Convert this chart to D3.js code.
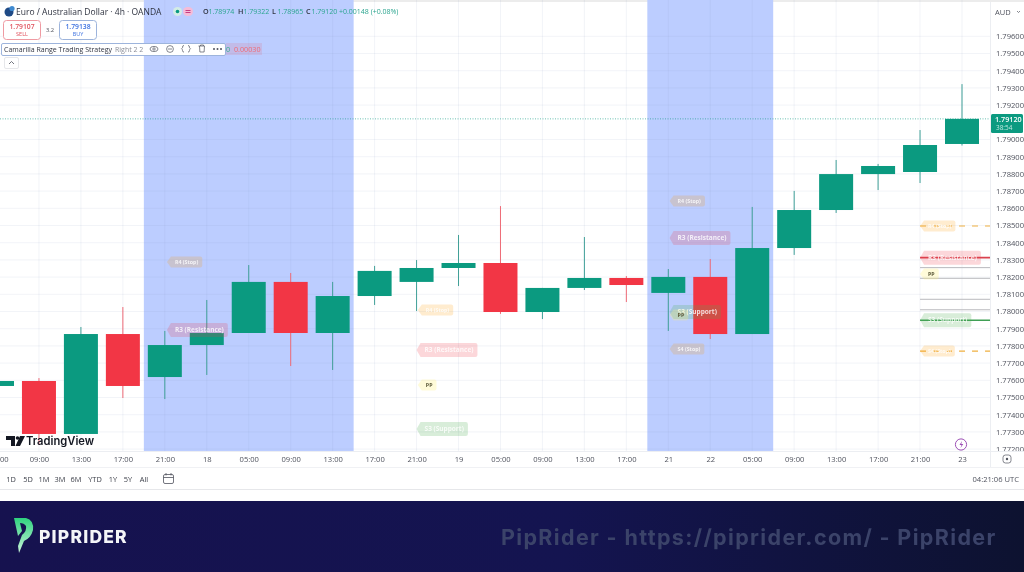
<!DOCTYPE html>
<html><head><meta charset="utf-8">
<script src="https://cdn.jsdelivr.net/npm/d3@7/dist/d3.min.js"></script>
<style>
html,body{margin:0;padding:0;background:#fff;overflow:hidden}
svg{display:block;font-family:"Open Sans",sans-serif;filter:blur(0.35px)}
</style></head><body><svg id="c" width="1024" height="572"></svg>
<script>
// ---------- data ----------
const timeLabels = ["05:00","09:00","13:00","17:00","21:00","18","05:00","09:00","13:00","17:00","21:00","19","05:00","09:00","13:00","17:00","21","22","05:00","09:00","13:00","17:00","21:00","23"];
const opens  = [1.77567,1.77596,1.77288,1.77869,1.77619,1.77805,1.77875,1.78172,1.77875,1.78090,1.78172,1.78253,1.78282,1.77997,1.78137,1.78195,1.78108,1.78201,1.77869,1.78369,1.78590,1.78799,1.78811,1.78974];
const highs  = [1.77596,1.77613,1.77910,1.78026,1.77887,1.78067,1.78270,1.78224,1.78172,1.78265,1.78299,1.78445,1.78613,1.78137,1.78433,1.78206,1.78247,1.78305,1.78608,1.78701,1.78881,1.78858,1.79055,1.79322];
const lows   = [1.77530,1.77224,1.77288,1.77497,1.77491,1.77631,1.77875,1.77683,1.77660,1.78038,1.78003,1.78148,1.77986,1.77956,1.78125,1.78055,1.77887,1.77840,1.77869,1.78329,1.78573,1.78706,1.78747,1.78965];
const closes = [1.77596,1.77288,1.77869,1.77567,1.77805,1.77875,1.78172,1.77875,1.78090,1.78236,1.78253,1.78282,1.77997,1.78137,1.78195,1.78154,1.78201,1.77869,1.78369,1.78590,1.78799,1.78846,1.78968,1.79120];
const priceTicks = [1.796,1.795,1.794,1.793,1.792,1.790,1.789,1.788,1.787,1.786,1.785,1.784,1.783,1.782,1.781,1.780,1.779,1.778,1.777,1.776,1.775,1.774,1.773,1.772];
const lastPrice = 1.79120;
const bandStarts = [3.5,15.5];
const bandEnds = [8.5,18.5];
const labelTexts = ["R4 (Stop)","R3 (Resistance)","R4 (Stop)","R3 (Resistance)","PP","S3 (Support)","R4 (Stop)","R3 (Resistance)","S3 (Support)","PP","S4 (Stop)"];
const labelKinds = ["stop","res","stop","res","pp","sup","stop","res","sup","pp","stop"];
const labelSlots = [4.05,4.05,10.03,10,10.03,10,16.03,16.03,16.03,16.03,16.03];
const labelPrices = [1.78288,1.77892,1.78009,1.77776,1.77573,1.77317,1.78642,1.78427,1.77997,1.77980,1.77782];
const levelNames = ["R4 (Stop)","R3 (Resistance)","PP","S3 (Support)","S4 (Stop)"];
const levelKinds = ["stop","res","pp","sup","stop"];
const levelPrices = [1.78497,1.78313,1.78218,1.77949,1.77770];
const greyLevels = [1.78255,1.78193,1.78071,1.78010];
const rangeButtons = ["1D","5D","1M","3M","6M","YTD","1Y","5Y","All"];
const rangeCentres = [11,28,44,60,76,95,113,128,144];

// ---------- scales ----------
const W=1024, axisX=990, plotB=451;
const x = d3.scaleLinear().domain([0,23]).range([-3,962]);
const y = d3.scaleLinear().domain([1.796,1.772]).range([36.3,449.1]);
const svg = d3.select("#c");
const kindFill = {stop:"#ff9800",res:"#f23645",pp:"#fff176",sup:"#4caf50"};
const kindOp = {stop:.19,res:.2,pp:.28,sup:.22};
const kindLine = {stop:"#efb040",res:"#d9434f",pp:"#bdbdbd",sup:"#3f9f55"};
const T = (s,xx,yy,o={})=>svg.append("text").attr("x",xx).attr("y",yy).text(s)
  .attr("font-size",o.size||8).attr("fill",o.fill||"#50535e").attr("text-anchor",o.anchor||"start")
  .attr("font-weight",o.weight||400).attr("font-family",o.family||null).attr("letter-spacing",o.ls||null);

svg.append("rect").attr("width",W).attr("height",572).attr("fill","#fff");
svg.append("rect").attr("width",W).attr("height",2).attr("fill","#ececec");

// bands
svg.selectAll(".band").data(bandStarts).join("rect").attr("class","band")
  .attr("x",d=>x(d)).attr("width",(d,i)=>x(bandEnds[i])-x(d)).attr("y",0).attr("height",plotB).attr("fill","#bccdff");

// grid
svg.append("g").selectAll("line").data(priceTicks).join("line")
  .attr("x1",0).attr("x2",axisX).attr("y1",d=>y(d)).attr("y2",d=>y(d)).attr("stroke","#8a9bc0").attr("stroke-opacity",.11);
svg.append("g").selectAll("line").data(timeLabels).join("line")
  .attr("x1",(d,i)=>x(i)).attr("x2",(d,i)=>x(i)).attr("y1",0).attr("y2",plotB).attr("stroke","#8a9bc0").attr("stroke-opacity",.11);

// price line
svg.append("line").attr("x1",0).attr("x2",axisX).attr("y1",y(lastPrice)).attr("y2",y(lastPrice))
  .attr("stroke","#089981").attr("stroke-opacity",.6).attr("stroke-dasharray","1 1.5");

// level lines
svg.append("g").selectAll("line").data(greyLevels).join("line")
  .attr("x1",x(22)).attr("x2",axisX).attr("y1",d=>y(d)).attr("y2",d=>y(d)).attr("stroke","#b9b9bd").attr("stroke-width",1);
svg.append("g").selectAll("line").data(levelPrices.filter((d,i)=>levelKinds[i]!=="pp")).join("line")
  .attr("x1",x(22)).attr("x2",axisX).attr("y1",d=>y(d)).attr("y2",d=>y(d))
  .attr("stroke",d=>kindLine[levelKinds[levelPrices.indexOf(d)]])
  .attr("stroke-width",d=>levelKinds[levelPrices.indexOf(d)]==="stop"?1.2:1.6)
  .attr("stroke-dasharray",d=>levelKinds[levelPrices.indexOf(d)]==="stop"?"6 7":null);

// candles
const idx = d3.range(opens.length);
const col = i=>closes[i]>=opens[i]?"#0b9a80":"#f23645";
const bw = 34;
const candleClip = svg.append("g");
candleClip.selectAll(".wick").data(idx).join("line").attr("class","wick")
  .attr("x1",x).attr("x2",x).attr("y1",i=>y(highs[i])).attr("y2",i=>y(lows[i]))
  .attr("stroke",i=>closes[i]>=opens[i]?"#3f9f97":"#ee6a76").attr("stroke-width",1);
candleClip.selectAll(".body").data(idx).join("rect").attr("class","body")
  .attr("x",i=>x(i)-bw/2).attr("width",bw)
  .attr("y",i=>y(Math.max(opens[i],closes[i])))
  .attr("height",i=>Math.abs(y(opens[i])-y(closes[i])))
  .attr("fill",col);

// pill labels
function pill(g,text,kind,px,py){
  const h = kind==="stop"||kind==="pp"?11:14;
  const t = g.append("text").attr("font-size",kind==="stop"||kind==="pp"?5.3:6.5).attr("font-weight",700)
    .attr("fill",kind==="pp"?"#5d5a3a":"#ffffff").attr("fill-opacity",kind==="pp"?1:.8).text(text);
  const tw = t.node().getComputedTextLength();
  const a = 4, w = tw+a+8;
  g.insert("path","text").attr("d",`M${px},${py} L${px+a},${py-h/2} H${px+w-2} Q${px+w},${py-h/2} ${px+w},${py-h/2+2} V${py+h/2-2} Q${px+w},${py+h/2} ${px+w-2},${py+h/2} H${px+a} Z`)
    .attr("fill",kindFill[kind]).attr("fill-opacity",kindOp[kind]);
  t.attr("x",px+a+4).attr("y",py+2.2);
}
labelTexts.forEach((s,i)=>pill(svg.append("g"),s,labelKinds[i],x(labelSlots[i]),y(labelPrices[i])));
levelNames.forEach((s,i)=>pill(svg.append("g"),s,levelKinds[i],x(22),y(levelPrices[i])));

// right axis
svg.append("rect").attr("x",axisX).attr("y",2).attr("width",W-axisX).attr("height",465).attr("fill","#fff");
svg.append("line").attr("x1",axisX+.5).attr("x2",axisX+.5).attr("y1",2).attr("y2",467).attr("stroke","#eceef2");
const ay = svg.append("g").attr("transform",`translate(${axisX+1},0)`)
  .call(d3.axisRight(y).tickValues(priceTicks).tickFormat(d3.format(".5f")).tickSize(0).tickPadding(5));
ay.select(".domain").remove();
ay.selectAll("text").attr("font-size",7.6).attr("fill","#50535e").attr("font-family",'"Open Sans",sans-serif');

// time axis
svg.append("rect").attr("x",0).attr("y",plotB).attr("width",axisX).attr("height",16).attr("fill","#fff");
svg.append("line").attr("x1",0).attr("x2",W).attr("y1",plotB+.5).attr("y2",plotB+.5).attr("stroke","#eceef2");
svg.append("line").attr("x1",0).attr("x2",W).attr("y1",467.5).attr("y2",467.5).attr("stroke","#f0f1f4");
svg.append("line").attr("x1",0).attr("x2",W).attr("y1",489.5).attr("y2",489.5).attr("stroke","#e6e7ea");
const ax = svg.append("g").attr("transform",`translate(0,${plotB+3})`)
  .call(d3.axisBottom(x).tickValues(idx.slice(1)).tickFormat(i=>timeLabels[i]).tickSize(0).tickPadding(3));
ax.select(".domain").remove();
ax.selectAll("text").attr("font-size",7.6).attr("fill","#50535e").attr("font-family",'"Open Sans",sans-serif');
T(timeLabels[0].slice(-2),0,462,{size:7.6}); // clipped first label, as in the source screenshot

// last price tag
svg.append("rect").attr("x",991).attr("y",114).attr("width",32).attr("height",19).attr("rx",1.5).attr("fill","#0b9a80");
T(d3.format(".5f")(lastPrice),995,122,{size:7.2,fill:"#fff",weight:600});
T("38:54",996,130,{size:6.4,fill:"#bfe9df"});

// AUD
T("AUD",995,15,{size:7.5});
svg.append("path").attr("d","M1017,11l1.5,1.5l1.5,-1.5").attr("fill","none").attr("stroke","#50535e").attr("stroke-width",.7);

// header
svg.append("circle").attr("cx",9).attr("cy",12).attr("r",4.5).attr("fill","#1f4a86");
svg.append("circle").attr("cx",12).attr("cy",8.5).attr("r",2.6).attr("fill","#3f8ad0");
T("Euro / Australian Dollar · 4h · OANDA",16,15,{size:8.5,fill:"#2f3340",weight:500});
svg.append("rect").attr("x",173).attr("y",7).attr("width",9).attr("height",9).attr("rx",4.5).attr("fill","#d3ece6");
svg.append("circle").attr("cx",177.5).attr("cy",11.5).attr("r",1.8).attr("fill","#089981");
svg.append("rect").attr("x",183).attr("y",7).attr("width",10).attr("height",9).attr("rx",4.5).attr("fill","#f5bcd8");
svg.append("rect").attr("x",185.5).attr("y",10).attr("width",5).attr("height",.9).attr("fill","#c2307a");
svg.append("rect").attr("x",185.5).attr("y",12).attr("width",5).attr("height",.9).attr("fill","#c2307a");
const ohlc=[["O","1.78974",203],["H","1.79322",238],["L","1.78965",272],["C","1.79120",306]];
ohlc.forEach(d=>{T(d[0],d[2],14,{size:7.2,fill:"#2f3340",weight:600});T(d[1],d[2]+5.5,14,{size:7,fill:"#2ba58f"});});
T("+0.00148 (+0.08%)",339,14,{size:7,fill:"#2ba58f"});

// sell / buy
svg.append("rect").attr("x",3.5).attr("y",20.5).attr("width",37).attr("height",19).attr("rx",3).attr("fill","#fff").attr("stroke","#ef9aa2");
T("1.79107",22,29,{size:6.8,fill:"#e0525e",anchor:"middle",weight:600});
T("SELL",22,36,{size:5.5,fill:"#e0525e",anchor:"middle"});
T("3.2",50,32,{size:5.8,anchor:"middle"});
svg.append("rect").attr("x",59.5).attr("y",20.5).attr("width",37).attr("height",19).attr("rx",3).attr("fill","#fff").attr("stroke","#9db4dc");
T("1.79138",78,29,{size:6.8,fill:"#3d72e0",anchor:"middle",weight:600});
T("BUY",78,36,{size:5.5,fill:"#3d72e0",anchor:"middle"});

// strategy bar
svg.append("rect").attr("x",226).attr("y",43).attr("width",36).attr("height",12).attr("fill","#f23645").attr("fill-opacity",.12);
T("0",226,52,{size:7.2,fill:"#34b58a"});
T("0.00030",234,52,{size:7.2,fill:"#ef6b76"});
svg.append("rect").attr("x",1.5).attr("y",43.5).attr("width",224).attr("height",12).attr("rx",1.5).attr("fill","#fff").attr("stroke","#9db4dc");
T("Camarilla Range Trading Strategy",4,52,{size:7,fill:"#2f3340"});
T("Right 2 2",115,52,{size:7,fill:"#8a8d97"});
const ic = svg.append("g").attr("fill","none").attr("stroke","#50535e").attr("stroke-width",.7);
ic.append("ellipse").attr("cx",154).attr("cy",49).attr("rx",4).attr("ry",2.6);
ic.append("circle").attr("cx",154).attr("cy",49).attr("r",1.2);
ic.append("circle").attr("cx",170).attr("cy",49).attr("r",3.4);
ic.append("path").attr("d","M168,49h4");
ic.append("path").attr("d","M184,45.5q-1.5,0 -1.5,1.5v.8l-1,1l1,1v.8q0,1.5 1.5,1.5M188,45.5q1.5,0 1.5,1.5v.8l1,1l-1,1v.8q0,1.5 -1.5,1.5");
ic.append("path").attr("d","M198.5,46h6M199.5,46l.4,6h4.2l.4,-6M200.5,46v-1h3v1");
[214,217.5,221].forEach(c=>svg.append("circle").attr("cx",c).attr("cy",49).attr("r",1).attr("fill","#50535e"));
svg.append("rect").attr("x",4.5).attr("y",57.5).attr("width",14).attr("height",11).attr("rx",1.5).attr("fill","#fff").attr("stroke","#e6e7ea");
svg.append("path").attr("d","M9,64l2.5,-2.5l2.5,2.5").attr("fill","none").attr("stroke","#50535e").attr("stroke-width",.8);

// TradingView logo
svg.append("path").attr("d","M6,436H15V446H11V440H6ZM20,436H25L20,446H15.5Z").attr("fill","#131722");
svg.append("circle").attr("cx",17.5).attr("cy",438).attr("r",1.8).attr("fill","#131722");
T("TradingView",26,445,{size:11.2,fill:"#131722",weight:600,family:"Inter, sans-serif"});

// bolt and settings icons
svg.append("circle").attr("cx",961).attr("cy",444.5).attr("r",5.6).attr("fill","#fff").attr("stroke","#9c4fb5").attr("stroke-width",1);
svg.append("path").attr("d","M962,441l-2.5,4h2l-1,3l2.8,-4h-2Z").attr("fill","#9c4fb5");
svg.append("rect").attr("x",1003).attr("y",455).attr("width",8).attr("height",8).attr("rx",2.5).attr("fill","none").attr("stroke","#50535e").attr("stroke-width",.7);
svg.append("circle").attr("cx",1007).attr("cy",459).attr("r",1.2).attr("fill","#50535e");

// toolbar
rangeButtons.forEach((s,i)=>T(s,rangeCentres[i],482,{size:7.4,anchor:"middle",fill:"#3d404a"}));
svg.append("rect").attr("x",163.5).attr("y",474.5).attr("width",10).attr("height",9).attr("rx",1.5).attr("fill","none").attr("stroke","#50535e").attr("stroke-width",.8);
svg.append("path").attr("d","M163.5,477.5h10M166,473v2.5M171,473v2.5").attr("stroke","#50535e").attr("stroke-width",.8);
T("04:21:06 UTC",1019,482,{size:7.6,anchor:"end"});

// footer
const defs = svg.append("defs");
const gr = defs.append("linearGradient").attr("id","ft");
gr.append("stop").attr("offset","0").attr("stop-color","#16124f");
gr.append("stop").attr("offset",".55").attr("stop-color","#141450");
gr.append("stop").attr("offset","1").attr("stop-color","#0d1230");
const gp = defs.append("linearGradient").attr("id","lg").attr("x1",0).attr("y1",0).attr("x2",0).attr("y2",1);
gp.append("stop").attr("offset","0").attr("stop-color","#2fd27f");
gp.append("stop").attr("offset","1").attr("stop-color","#c9f3d8");
svg.append("rect").attr("y",501).attr("width",W).attr("height",71).attr("fill","url(#ft)");
svg.append("path").attr("d","M14,518H26Q34,520 33,530Q31,538 24,541L19,553L18,546L22,535Q27,531 26,526Q24,523 20,523L22,531L18,536Z").attr("fill","url(#lg)");
T("PIPRIDER",39,543,{size:17.5,fill:"#f4f5f8",weight:800,family:"Inter, sans-serif",ls:1.2});
T("PipRider - https://piprider.com/ - PipRider",501,545,{size:21.5,fill:"#3b4369",weight:700,family:"Inter, sans-serif",ls:1.35});
</script></body></html>
